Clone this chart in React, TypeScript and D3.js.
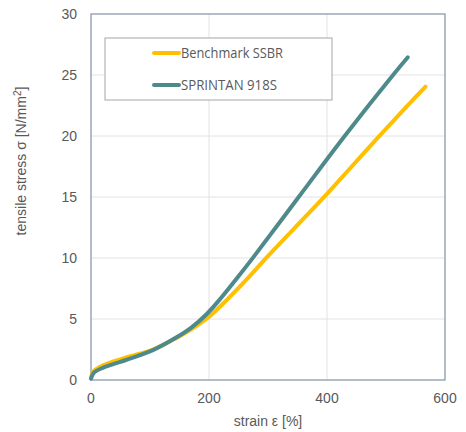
import React from "react";
import * as d3 from "d3";

const xTicks = [0, 200, 400, 600];
const yTicks = [0, 5, 10, 15, 20, 25, 30];

const benchStrain = [0, 5, 20, 60, 105, 145, 170, 198, 230, 265, 295, 345, 396, 440, 487, 527, 567];
const benchStress = [0.2, 0.75, 1.2, 1.85, 2.5, 3.45, 4.15, 5.1, 6.55, 8.3, 9.9, 12.45, 15.05, 17.4, 19.9, 22.0, 24.05];

const sprStrain = [0, 5, 20, 60, 105, 145, 170, 195, 220, 250, 275, 352, 430, 512, 537];
const sprStress = [0.1, 0.6, 1.0, 1.65, 2.45, 3.5, 4.3, 5.35, 6.7, 8.5, 10.05, 15, 20, 25, 26.45];

const seriesNames = ["Benchmark SSBR", "SPRINTAN 918S"];
const seriesColors = ["#FFC000", "#4E8A8C"];

export default function App() {
  const left = 91, right = 445, top = 14, bottom = 380;
  const x = d3.scaleLinear().domain([0, 600]).range([left, right]);
  const y = d3.scaleLinear().domain([0, 30]).range([bottom, top]);
  const line = d3
    .line<[number, number]>()
    .x((d) => x(d[0]))
    .y((d) => y(d[1]))
    .curve(d3.curveCatmullRom.alpha(0.5));
  const bench: [number, number][] = benchStrain.map((s, i) => [s, benchStress[i]]);
  const spr: [number, number][] = sprStrain.map((s, i) => [s, sprStress[i]]);
  const tickColor = "#595959";
  const font = "'Liberation Sans', Arial, sans-serif";

  return (
    <svg
      width={466}
      height={432}
      style={{ position: "absolute", left: 0, top: 0, background: "#fff" }}
    >
      {xTicks.map((t) => (
        <line key={"gx" + t} x1={x(t)} x2={x(t)} y1={top} y2={bottom} stroke="#e2e2e2" strokeWidth={1} />
      ))}
      {yTicks.map((t) => (
        <line key={"gy" + t} x1={left} x2={right} y1={y(t)} y2={y(t)} stroke="#e2e2e2" strokeWidth={1} />
      ))}
      <rect x={left} y={top} width={right - left} height={bottom - top} fill="none" stroke="#8a9ab0" strokeWidth={1.2} />
      <path d={line(bench) || ""} fill="none" stroke={seriesColors[0]} strokeWidth={4} strokeLinecap="round" />
      <path d={line(spr) || ""} fill="none" stroke={seriesColors[1]} strokeWidth={4} strokeLinecap="round" />
      {yTicks.map((t) => (
        <text key={"ty" + t} x={77} y={y(t) + 5} textAnchor="end" fontSize={14} fill={tickColor} fontFamily={font}>
          {t}
        </text>
      ))}
      {xTicks.map((t) => (
        <text key={"tx" + t} x={x(t)} y={403} textAnchor="middle" fontSize={14} fill={tickColor} fontFamily={font}>
          {t}
        </text>
      ))}
      <text x={268} y={426} textAnchor="middle" fontSize={14} fill={tickColor} fontFamily={font}>
        strain ε [%]
      </text>
      <text
        transform={`translate(26,161) rotate(-90)`}
        textAnchor="middle"
        fontSize={14}
        fill={tickColor}
        fontFamily={font}
      >
        tensile stress σ [N/mm<tspan dy={-5} fontSize={10}>2</tspan><tspan dy={5}>]</tspan>
      </text>
      <rect x={105} y={38} width={227} height={62} fill="#fff" stroke="#a6a6a6" strokeWidth={1} />
      {seriesNames.map((n, i) => (
        <g key={n}>
          <line
            x1={154}
            x2={179}
            y1={53 + i * 32}
            y2={53 + i * 32}
            stroke={seriesColors[i]}
            strokeWidth={4}
            strokeLinecap="round"
          />
          <text x={181} y={58 + i * 32} fontSize={14} fill={tickColor} fontFamily="'Open Sans', sans-serif" textLength={i === 0 ? 102 : 96} lengthAdjust="spacingAndGlyphs">
            {n}
          </text>
        </g>
      ))}
    </svg>
  );
}
